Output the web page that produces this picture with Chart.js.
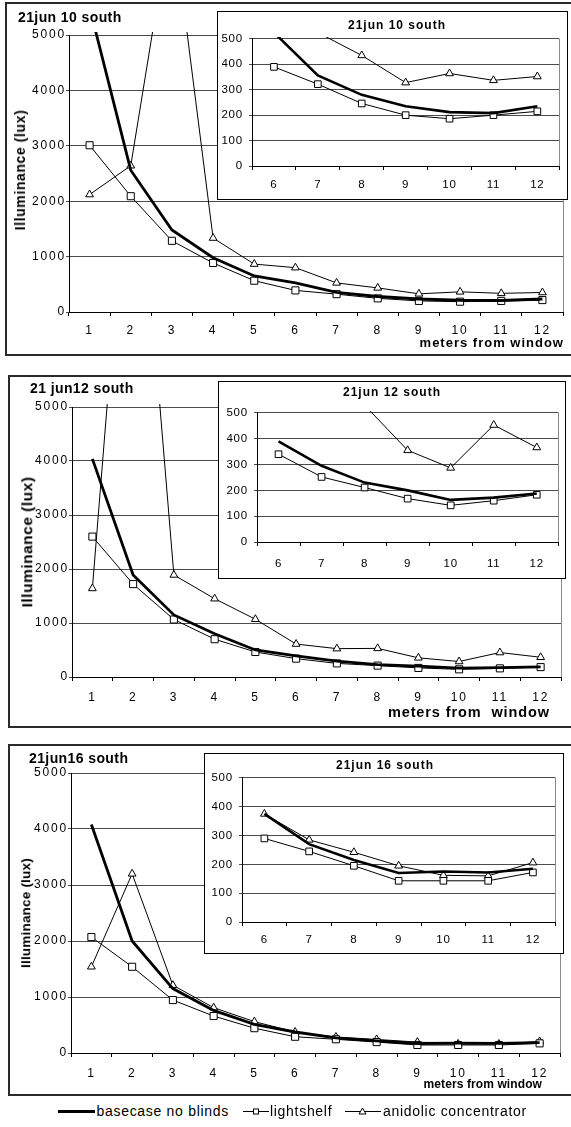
<!DOCTYPE html>
<html>
<head>
<meta charset="utf-8">
<script src="https://cdn.jsdelivr.net/npm/chart.js@4.4.1/dist/chart.umd.min.js"></script>
<style>
  body { margin: 0; width: 571px; height: 1127px; overflow: hidden; background: #fff; position: relative;
         font-family: "Liberation Sans", Arial, sans-serif; color: #000; }
  .panel { position: absolute; border: 2px solid #2a2a2a; box-sizing: border-box; background: #fff; }
  .inset { position: absolute; border: 1px solid #000; box-sizing: border-box; background: #fff; }
  .t { position: absolute; white-space: nowrap; line-height: 1; font-weight: bold; }
  .lg { position: absolute; white-space: nowrap; line-height: 1; font-size: 14px; letter-spacing: 0.7px; top: 1104px; }
  canvas, svg { position: absolute; }
</style>
</head>
<body>

<!-- panel 1 -->
<div class="panel" style="left:5px;top:2px;width:575px;height:354px"></div>
<canvas id="main10" width="560" height="319" style="left:9px;top:23px"></canvas>
<div class="inset" style="left:217px;top:11px;width:351px;height:189px"></div>
<canvas id="ins10" width="343" height="170" style="left:222px;top:26px"></canvas>
<div class="t" style="left:18px;top:10px;font-size:14px;letter-spacing:0.4px">21jun 10 south</div>
<div class="t" style="left:397px;top:18.6px;font-size:12px;letter-spacing:1px;transform:translateX(-50%)">21jun 10 south</div>
<div class="t" style="left:20px;top:170px;font-size:14px;letter-spacing:0.6px;transform:translate(-50%,-50%) rotate(-90deg)">Illuminance (lux)</div>
<div class="t" style="right:7px;top:335.6px;font-size:13px;letter-spacing:1px">meters from window</div>

<!-- panel 2 -->
<div class="panel" style="left:8px;top:375px;width:575px;height:353px"></div>
<canvas id="main12" width="555" height="312" style="left:12px;top:395px"></canvas>
<div class="inset" style="left:218px;top:381px;width:348px;height:198px"></div>
<canvas id="ins12" width="337" height="172" style="left:227px;top:400px"></canvas>
<div class="t" style="left:30px;top:381px;font-size:14px;letter-spacing:0.4px">21 jun12 south</div>
<div class="t" style="left:392px;top:386px;font-size:12px;letter-spacing:1px;transform:translateX(-50%)">21jun 12 south</div>
<div class="t" style="left:27px;top:542px;font-size:15.5px;letter-spacing:0.5px;transform:translate(-50%,-50%) rotate(-90deg)">Illuminance (lux)</div>
<div class="t" style="right:21px;top:705px;font-size:14.5px;letter-spacing:0.9px">meters from&nbsp; window</div>

<!-- panel 3 -->
<div class="panel" style="left:8px;top:744px;width:575px;height:352px"></div>
<canvas id="main16" width="555" height="322" style="left:11px;top:761px"></canvas>
<div class="inset" style="left:204px;top:753px;width:360px;height:201px"></div>
<canvas id="ins16" width="349" height="185" style="left:212px;top:765px"></canvas>
<div class="t" style="left:29px;top:751px;font-size:14px;letter-spacing:0.4px">21jun16 south</div>
<div class="t" style="left:385px;top:759px;font-size:12px;letter-spacing:1px;transform:translateX(-50%)">21jun 16 south</div>
<div class="t" style="left:26px;top:913px;font-size:13.5px;letter-spacing:0.2px;transform:translate(-50%,-50%) rotate(-90deg)">Illuminance (lux)</div>
<div class="t" style="right:29px;top:1078px;font-size:12px;letter-spacing:0.1px">meters from window</div>

<!-- legend -->
<svg style="left:58px;top:1105px" width="37" height="12"><line x1="0" y1="6.5" x2="37" y2="6.5" stroke="#000" stroke-width="3"/></svg>
<span class="lg" style="left:96.5px">basecase no blinds</span>
<svg style="left:243px;top:1105px" width="26" height="12"><line x1="0" y1="6.5" x2="26" y2="6.5" stroke="#000"/><rect x="10.5" y="4" width="5" height="5" fill="#fff" stroke="#000"/></svg>
<span class="lg" style="left:270px">lightshelf</span>
<svg style="left:345px;top:1105px" width="36" height="12"><line x1="0" y1="6.5" x2="36" y2="6.5" stroke="#000"/><polygon points="17.5,3 21,9 14,9" fill="#fff" stroke="#000"/></svg>
<span class="lg" style="left:383px">anidolic concentrator</span>

<script>
// categories (meters from window)
const categories = ['1', '2', '3', '4', '5', '6', '7', '8', '9', '10', '11', '12'];
const insetCategories = ['6', '7', '8', '9', '10', '11', '12'];

// y tick labels
const mainYTicks = [0, 1000, 2000, 3000, 4000, 5000];
const insetYTicks = [0, 100, 200, 300, 400, 500];

// 21jun 10 south
const base10 = [5500, 2560, 1480, 980, 650, 525, 356, 280, 235, 212, 208, 235];
const light10 = [3010, 2090, 1285, 885, 565, 390, 322, 246, 200, 186, 200, 215];
const anid10 = [2120, 2640, 7200, 1335, 865, 800, 525, 435, 328, 364, 337, 352];

// 21jun 12 south
const base12 = [4040, 1890, 1150, 800, 500, 390, 295, 230, 200, 163, 172, 188];
const light12 = [2600, 1720, 1065, 700, 463, 340, 252, 211, 168, 142, 160, 183];
const anid12 = [1640, 11000, 1890, 1450, 1070, 610, 525, 530, 355, 287, 453, 366];

// 21jun 16 south
const base16 = [4080, 2000, 1150, 760, 510, 375, 270, 215, 170, 175, 172, 185];
const light16 = [2070, 1540, 945, 660, 443, 290, 245, 195, 143, 143, 143, 172];
const anid16 = [1540, 3200, 1210, 810, 560, 375, 285, 242, 195, 162, 160, 206];

Chart.defaults.font.family = '"Liberation Sans", Arial, sans-serif';
Chart.defaults.color = '#000';

// the scanned chart has wide text, so spread the letters a bit
function spacing(px) {
    return { id: 'spacing', beforeDraw(chart) { chart.ctx.letterSpacing = px + 'px'; } };
}

// grey right edge of the plot area
const rightEdge = {
    id: 'rightEdge',
    afterDraw(chart) {
        const a = chart.chartArea, ctx = chart.ctx;
        const x = Math.round(a.right) + 0.5;
        ctx.save();
        ctx.strokeStyle = '#8a8a8a';
        ctx.lineWidth = 1;
        ctx.beginPath();
        ctx.moveTo(x, a.top);
        ctx.lineTo(x, a.bottom);
        ctx.stroke();
        ctx.restore();
    }
};

function build(id, labels, base, light, anid, yTicks, o) {
    const clip = { left: 0, top: o.clipTop, right: 0, bottom: 0 };
    return new Chart(document.getElementById(id), {
        type: 'line',
        data: {
            labels: labels,
            datasets: [
                { label: 'basecase no blinds', data: base, borderColor: '#000', borderWidth: o.thick,
                  pointRadius: 0, tension: 0, clip: clip },
                { label: 'lightshelf', data: light, borderColor: '#000', borderWidth: 1,
                  pointStyle: 'rect', pointRadius: o.sq, pointBackgroundColor: '#fff',
                  pointBorderColor: '#000', pointBorderWidth: 1, tension: 0, clip: clip },
                { label: 'anidolic concentrator', data: anid, borderColor: '#000', borderWidth: 1,
                  pointStyle: 'triangle', pointRadius: o.tri, pointBackgroundColor: '#fff',
                  pointBorderColor: '#000', pointBorderWidth: 1, tension: 0, clip: clip }
            ]
        },
        options: {
            responsive: false,
            animation: false,
            events: [],
            layout: { padding: { top: o.pt, right: o.pr, left: 0, bottom: 0 } },
            plugins: { legend: { display: false }, tooltip: { enabled: false } },
            scales: {
                x: {
                    offset: true,
                    grid: { offset: true, drawOnChartArea: false, color: '#000', tickLength: 4 },
                    border: { color: '#000', width: 1 },
                    ticks: { font: { size: o.fs }, color: '#000', padding: o.xpad, maxRotation: 0, autoSkip: false },
                    afterFit: s => { s.height = o.xh; }
                },
                y: {
                    min: yTicks[0],
                    max: yTicks[yTicks.length - 1],
                    ticks: { stepSize: yTicks[1] - yTicks[0], font: { size: o.fs }, color: '#000', padding: o.ypad,
                             callback: v => String(v) },
                    grid: { color: '#4a4a4a', tickLength: 3 },
                    border: { color: '#000', width: 1 },
                    afterFit: s => { s.width = o.yw; }
                }
            }
        },
        plugins: [spacing(o.ls), rightEdge]
    });
}

const mainOpt = { thick: 2.8, sq: 5, tri: 4.5, fs: 12, ls: 1.8, ypad: 0, yw: 60, pt: 12, pr: 4, xh: 30, clipTop: 3 };
const insetOpt = { thick: 2.6, sq: 4.7, tri: 4.5, fs: 11.5, ls: 0.8, ypad: 6, yw: 30, pt: 8, pr: 2, xh: 30, clipTop: 2 };

build('main10', categories, base10, light10, anid10, mainYTicks, { ...mainOpt, xpad: 7 });
build('main12', categories, base12, light12, anid12, mainYTicks, { ...mainOpt, xpad: 9 });
build('main16', categories, base16, light16, anid16, mainYTicks, { ...mainOpt, xpad: 9 });

build('ins10', insetCategories, base10.slice(5), light10.slice(5), anid10.slice(5), insetYTicks, { ...insetOpt, pr: 3, xpad: 8 });
build('ins12', insetCategories, base12.slice(5), light12.slice(5), anid12.slice(5), insetYTicks, { ...insetOpt, xpad: 11 });
build('ins16', insetCategories, base16.slice(5), light16.slice(5), anid16.slice(5), insetYTicks, { ...insetOpt, xh: 28, xpad: 7 });
</script>
</body>
</html>
